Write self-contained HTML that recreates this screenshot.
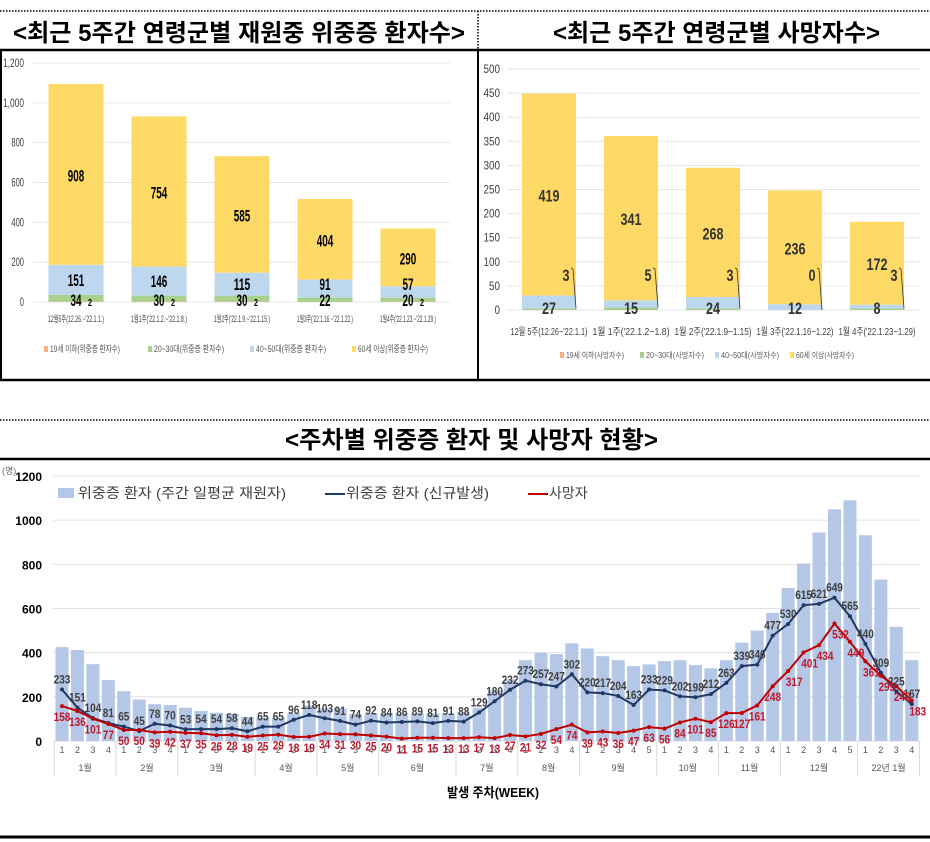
<!DOCTYPE html>
<html><head><meta charset="utf-8">
<style>
html,body{margin:0;padding:0;background:#fff;}
svg{display:block;font-family:"Liberation Sans","Noto Sans CJK KR",sans-serif;}
</style></head>
<body>
<svg id="root" width="930" height="842" viewBox="0 0 930 842" xmlns="http://www.w3.org/2000/svg">
  <g>
    <line x1="0" y1="11" x2="930" y2="11" stroke="#000" stroke-width="1.5" stroke-dasharray="1.5,1.5"/>
    <line x1="478" y1="11" x2="478" y2="50" stroke="#000" stroke-width="1.5" stroke-dasharray="1.5,1.5"/>
    <line x1="0" y1="50" x2="930" y2="50" stroke="#000" stroke-width="2.5"/>
    <line x1="1" y1="50" x2="1" y2="380" stroke="#000" stroke-width="2"/>
    <line x1="478" y1="50" x2="478" y2="380" stroke="#000" stroke-width="2"/>
    <line x1="0" y1="380" x2="930" y2="380" stroke="#000" stroke-width="2.5"/>
    <line x1="0" y1="420" x2="930" y2="420" stroke="#000" stroke-width="1.5" stroke-dasharray="1.5,1.5"/>
    <line x1="0" y1="459" x2="930" y2="459" stroke="#000" stroke-width="2.5"/>
    <line x1="0" y1="837" x2="930" y2="837" stroke="#000" stroke-width="3"/>
  </g>
  <text x="13" y="41" font-size="24" font-weight="bold" textLength="452" lengthAdjust="spacingAndGlyphs">&lt;최근 5주간 연령군별 재원중 위중증 환자수&gt;</text>
  <text x="553" y="41" font-size="24" font-weight="bold" textLength="327" lengthAdjust="spacingAndGlyphs">&lt;최근 5주간 연령군별 사망자수&gt;</text>
  <text x="285" y="448" font-size="24" font-weight="bold" textLength="373" lengthAdjust="spacingAndGlyphs">&lt;주차별 위중증 환자 및 사망자 현황&gt;</text>
  <g id="c1"></g>
  <g id="c2"></g>
  <g id="c3"></g>
</svg>
<script>
// ---- chart 1 data ----
const c1Cats = ["12월5주(12.26.~'22.1.1.)","1월1주('22.1.2.~'22.1.8.)","1월2주('22.1.9.~'22.1.15.)","1월3주('22.1.16.~'22.1.22.)","1월4주('22.1.23.~'22.1.29.)"];
const c1Under19 = [2,2,2,0,2];
const c1Age2030 = [34,30,30,22,20];
const c1Age4050 = [151,146,115,91,57];
const c1Age60 = [908,754,585,404,290];
const c1Ticks = [0,200,400,600,800,1000,1200];
const c1Legend = ["19세 이하(위중증 환자수)","20~30대(위중증 환자수)","40~50대(위중증 환자수)","60세 이상(위중증 환자수)"];
// ---- chart 2 data ----
const c2Cats = ["12월 5주(12.26~'22.1.1)","1월 1주('22.1.2~1.8)","1월 2주('22.1.9~1.15)","1월 3주('22.1.16~1.22)","1월 4주('22.1.23~1.29)"];
const c2Under19 = [0,0,0,0,0];
const c2Age2030 = [3,5,3,0,3];
const c2Age4050 = [27,15,24,12,8];
const c2Age60 = [419,341,268,236,172];
const c2Ticks = [0,50,100,150,200,250,300,350,400,450,500];
const c2Legend = ["19세 이하(사망자수)","20~30대(사망자수)","40~50대(사망자수)","60세 이상(사망자수)"];
// ---- chart 3 data ----
const months = ["1월","2월","3월","4월","5월","6월","7월","8월","9월","10월","11월","12월","22년 1월"];
const weeksPerMonth = [4,4,5,4,4,5,4,4,5,4,4,5,4];
const inpatients = [425,412,348,276,226,188,167,163,151,136,128,122,109,106,106,125,160,148,148,122,125,125,125,125,125,125,130,150,230,280,366,400,393,442,419,384,366,339,347,362,366,344,329,366,445,500,580,693,803,944,1049,1090,932,731,517,366];
const newSevere = [233,151,104,81,65,45,78,70,53,54,54,58,44,65,65,96,118,103,91,74,92,84,86,89,81,91,88,129,180,232,273,257,247,302,220,217,204,163,233,229,202,198,212,263,339,346,477,530,615,621,649,565,440,309,225,167];
const deaths = [158,136,101,77,50,50,39,42,37,35,26,28,19,25,29,18,19,34,31,30,25,20,11,15,15,13,13,17,13,27,21,32,54,74,39,43,36,47,63,56,84,101,85,126,127,161,248,317,401,434,532,449,361,295,248,183];
const c3Ticks = [0,200,400,600,800,1000,1200];

const NS="http://www.w3.org/2000/svg";
function mk(tag, attrs, parent){const e=document.createElementNS(NS,tag);for(const k in attrs)e.setAttribute(k,attrs[k]);parent.appendChild(e);return e;}
const YEL="#ffd966", LBL="#bdd7ee", GRN="#a9d18e", PNK="#f4b183";

function stacked(g, cfg){
  const y=v=>cfg.y0-(v/cfg.max)*(cfg.y0-cfg.yTop);
  cfg.ticks.forEach(t=>{
    const l=mk('line',{x1:cfg.gx1,x2:cfg.gx2,y1:y(t),y2:y(t),stroke:'#e6e6e6','stroke-width':1},g);
    
    
    const s=cfg.tickFmt(t);
    const tx=mk('text',{x:cfg.tickX,y:y(t)+4,'text-anchor':'end','font-size':12,fill:'#404040',textLength:s.length*cfg.tickCw,lengthAdjust:'spacingAndGlyphs'},g);
    tx.textContent=s;
    
    
  });
  const series=[cfg.s19,cfg.s2030,cfg.s4050,cfg.s60];
  const cols=[PNK,GRN,LBL,YEL];
  cfg.cats.forEach((c,i)=>{
    const cx=cfg.x0+i*cfg.step;
    let acc=0;
    series.forEach((s,k)=>{
      const v=s[i];
      const r=mk('rect',{x:cx-cfg.bw/2,y:y(acc+v),width:cfg.bw,height:y(acc)-y(acc+v),fill:cols[k]},g);
      
      
      acc+=v;
    });
    cfg.labels(g,cx,i,y);
    const xl=mk('text',{x:cx-cfg.xlW/2,y:cfg.xlY,'font-size':cfg.xlSize,fill:'#404040',textLength:cfg.xlW,lengthAdjust:'spacingAndGlyphs'},g);
    xl.textContent=c;
    
    
  });
  cfg.legend.forEach((t,k)=>{
    const lx=cfg.legX[k];
    const sq=mk('rect',{x:lx,y:cfg.legY-6,width:4,height:6,fill:cols[k]},g);
    
    
    const lt=mk('text',{x:lx+6,y:cfg.legY,'font-size':cfg.legSize,fill:'#555',textLength:cfg.legW,lengthAdjust:'spacingAndGlyphs'},g);
    lt.textContent=t;
    
    
  });
}
function lab(g,x,y,t,size,color,name,cw){
  const s=String(t);
  const e=mk('text',{x:x-s.length*cw/2,y:y,'font-size':size,'font-weight':'bold',fill:color,textLength:s.length*cw,lengthAdjust:'spacingAndGlyphs'},g);
  e.textContent=s;
  
  
  return e;
}

stacked(document.getElementById('c1'),{
  cats:c1Cats,s19:c1Under19,s2030:c1Age2030,s4050:c1Age4050,s60:c1Age60,ticks:c1Ticks,max:1200,
  y0:302,yTop:63,gx1:33,gx2:450,tickX:24,tickCw:4.2,tickFmt:t=>t.toLocaleString('en-US'),
  x0:76,step:83,bw:55,xlY:322,xlSize:9,xlW:56,legend:c1Legend,legX:[44,148,250,352],legY:352,legSize:9,legW:70,
  labels:(g,cx,i,y)=>{
    const b1=c1Under19[i]+c1Age2030[i], b2=b1+c1Age4050[i], b3=b2+c1Age60[i];
    lab(g,cx,(y(b2)+y(b3))/2+7,c1Age60[i],17,'#000','value-label-60plus',5.5);
    lab(g,cx,Math.min((y(b1)+y(b2))/2+6,290),c1Age4050[i],17,'#000','value-label-40-50',5.5);
    lab(g,cx,306,c1Age2030[i],17,'#000','value-label-20-30',5.5);
    if(c1Under19[i]>0) lab(g,cx+14,306,c1Under19[i],10,'#000','value-label-under19',4);
  }
});
stacked(document.getElementById('c2'),{
  cats:c2Cats,s19:c2Under19,s2030:c2Age2030,s4050:c2Age4050,s60:c2Age60,ticks:c2Ticks,max:500,
  y0:310,yTop:69,gx1:507,gx2:920,tickX:500,tickCw:5.5,tickFmt:t=>String(t),
  x0:549,step:82,bw:54,xlY:335,xlSize:10,xlW:77,legend:c2Legend,legX:[560,640,715,790],legY:358,legSize:8,legW:58,
  labels:(g,cx,i,y)=>{
    const b1=c2Under19[i]+c2Age2030[i], b2=b1+c2Age4050[i], b3=b2+c2Age60[i];
    lab(g,cx,(y(b2)+y(b3))/2+7,c2Age60[i],17,'#333','value-label-60plus',7);
    lab(g,cx,314,c2Age4050[i],17,'#333','value-label-40-50',7);
    lab(g,cx+17,281,c2Age2030[i],17,'#333','value-label-20-30',7);
    const ld=mk('path',{d:`M${cx+22},268 L${cx+24},269 L${cx+27},${y(b1)}`,stroke:'#333',fill:'none','stroke-width':0.8},g);
    
    
  }
});

// chart 3
(function(){
  const g=document.getElementById('c3');
  const y0=741,yTop=476,max=1200,x0=62,step=15.45;
  const y=v=>y0-(v/max)*(y0-yTop);
  const x=i=>x0+i*step;
  c3Ticks.forEach(t=>{
    const l=mk('line',{x1:53,x2:920,y1:y(t),y2:y(t),stroke:'#e0e0e0','stroke-width':1},g);
    
    
    const tx=mk('text',{x:42,y:y(t)+5,'text-anchor':'end','font-size':12,'font-weight':'bold',fill:'#000'},g);
    tx.textContent=t;
    
    
  });
  const u=mk('text',{x:2,y:474,'font-size':9,fill:'#666'},g);
  u.textContent='(명)';
  
  
  inpatients.forEach((v,i)=>{
    const r=mk('rect',{x:x(i)-6.5,y:y(v),width:13,height:y(0)-y(v),fill:'#b4c7e7'},g);
    
    
  });
  function line(data,color,name){
    const p=mk('polyline',{points:data.map((v,i)=>x(i)+','+y(v)).join(' '),fill:'none',stroke:color,'stroke-width':2},g);
    
    
    data.forEach((v,i)=>{
      const c=mk('circle',{cx:x(i),cy:y(v),r:2,fill:color},g);
      
      
    });
  }
  line(newSevere,'#1f3864','line-new-severe');
  line(deaths,'#c00000','line-deaths');
  newSevere.forEach((v,i)=>{ lab(g,x(i),y(v)-6,v,12,'#404040','value-label-new-severe',5.6); });
  deaths.forEach((v,i)=>{ lab(g,x(i)+(i>46?6:0),y(v)+15,v,12,'#c0172b','value-label-deaths',5.6); });
  let idx=0;
  const sep0=mk('line',{x1:x(0)-7.7,x2:x(0)-7.7,y1:741,y2:776,stroke:'#d9d9d9'},g);
  
  
  months.forEach((m,k)=>{
    const n=weeksPerMonth[k];
    for(let w=0;w<n;w++){
      const t=mk('text',{x:x(idx+w),y:753,'text-anchor':'middle','font-size':9,fill:'#555'},g);
      t.textContent=w+1;
      
      
    }
    const mx=(x(idx)+x(idx+n-1))/2;
    const mt=mk('text',{x:mx,y:771,'text-anchor':'middle','font-size':9,fill:'#555'},g);
    mt.textContent=m;
    
    
    idx+=n;
    const sx=x(idx-1)+7.7;
    const s=mk('line',{x1:sx,x2:sx,y1:741,y2:776,stroke:'#d9d9d9'},g);
    
    
  });
  const xt=mk('text',{x:447,y:797,'font-size':13,'font-weight':'bold',fill:'#000',textLength:92,lengthAdjust:'spacingAndGlyphs'},g);
  xt.textContent='발생 주차(WEEK)';
  
  
  const ls=mk('rect',{x:58,y:488,width:16,height:10,fill:'#b4c7e7'},g);
  
  
  const lt1=mk('text',{x:78,y:498,'font-size':14,fill:'#404040',textLength:208,lengthAdjust:'spacingAndGlyphs'},g);
  lt1.textContent='위중증 환자 (주간 일평균 재원자)';
  
  
  const ll2=mk('line',{x1:325,x2:345,y1:494,y2:494,stroke:'#1f3864','stroke-width':2},g);
  
  
  const lt2=mk('text',{x:346,y:498,'font-size':14,fill:'#404040',textLength:143,lengthAdjust:'spacingAndGlyphs'},g);
  lt2.textContent='위중증 환자 (신규발생)';
  
  
  const ll3=mk('line',{x1:528,x2:548,y1:494,y2:494,stroke:'#c00000','stroke-width':2},g);
  
  
  const lt3=mk('text',{x:549,y:498,'font-size':14,fill:'#404040'},g);
  lt3.textContent='사망자';
  
  
})();
</script>
</body></html>
